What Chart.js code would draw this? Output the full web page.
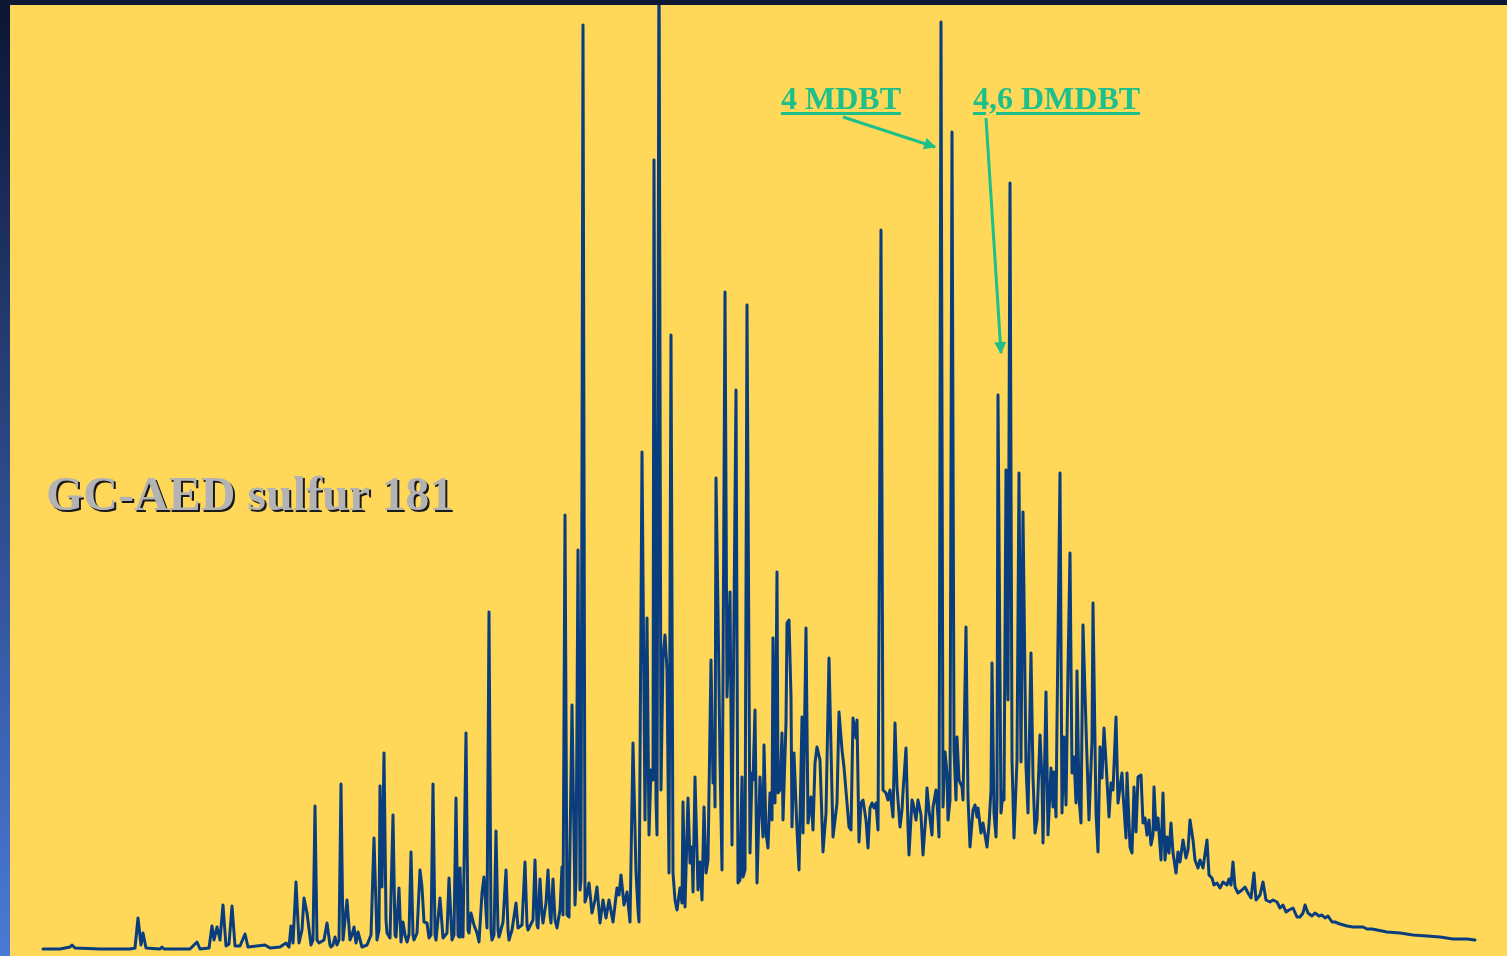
<!DOCTYPE html>
<html>
<head>
<meta charset="utf-8">
<script src="https://cdn.jsdelivr.net/npm/chart.js@4.4.1/dist/chart.umd.min.js"></script>
<style>
  html, body { margin: 0; padding: 0; width: 1507px; height: 956px; overflow: hidden; }
  body { position: relative; background: linear-gradient(180deg, #0c1631 0%, #13214a 12%, #213768 31%, #33539a 60%, #4a7ad6 100%); }
  #topstrip { position: absolute; left: 0; top: 0; width: 1507px; height: 5px; background: #0d1833; }
  #panel { position: absolute; left: 10px; top: 5px; width: 1497px; height: 951px; background: #FFD85A; }
  #chart { position: absolute; left: 0; top: 0; }
  #title { position: absolute; left: 46px; top: 470px; font: bold 48px "Liberation Serif", "Times New Roman", serif; line-height: 48px; color: #b3b3b3; text-shadow: 2px 2px 0 #1a1a1a; white-space: nowrap; }
  .lbl { position: absolute; top: 82px; font: bold 32px "Liberation Serif", "Times New Roman", serif; line-height: 32px; color: #1dbf8a; white-space: nowrap; text-decoration: underline; text-decoration-thickness: 3px; text-underline-offset: 3px; }
  #arrows { position: absolute; left: 0; top: 0; }
</style>
</head>
<body>
<div id="topstrip"></div>
<div id="panel"></div>
<canvas id="chart" width="1507" height="956"></canvas>
<div id="title"></div>
<div id="lbl0" class="lbl" style="left:781px"></div>
<div id="lbl1" class="lbl" style="left:973px"></div>
<svg id="arrows" width="1507" height="956">
  <defs>
    <marker id="head" viewBox="0 0 10 10" refX="9" refY="5" markerWidth="5" markerHeight="4" orient="auto" markerUnits="strokeWidth">
      <path d="M0,0 L10,5 L0,10 z" fill="#1dbf8a"/>
    </marker>
  </defs>
  <line x1="843" y1="117" x2="935" y2="147" stroke="#1dbf8a" stroke-width="3" marker-end="url(#head)"/>
  <line x1="986" y1="118" x2="1001" y2="353" stroke="#1dbf8a" stroke-width="3" marker-end="url(#head)"/>
</svg>
<script>
const chartTitle = "GC-AED sulfur 181";
const compoundLabels = ["4 MDBT", "4,6 DMDBT"];

// retention (scan number) and sulfur response (counts)
const scanNumber = [
0,17,27,29,32,57,87,92,95,98,
100,103,117,119,121,147,154,157,166,169,
171,174,177,180,183,186,189,192,197,202,
205,222,227,237,243,246,248,250,253,256,
259,261,264,268,270,272,274,276,281,284,
287,288,290,292,294,296,298,300,304,307,
309,311,313,315,319,324,328,331,334,336,
337,339,341,343,344,347,350,352,353,356,
358,360,362,364,366,368,370,371,374,377,
379,381,384,386,388,390,392,393,397,400,
404,406,409,411,413,415,416,417,419,420,
423,425,426,428,431,434,436,439,441,444,
446,448,449,451,453,455,456,460,463,465,
466,469,473,475,479,482,484,485,490,492,
494,495,497,499,500,503,505,507,508,510,
512,514,517,519,520,522,524,526,529,532,
533,535,537,538,540,542,544,546,549,552,
554,557,560,563,566,570,574,576,578,581,
584,587,590,593,595,596,599,602,604,606,
608,610,611,613,614,616,618,620,622,624,
626,628,630,632,634,637,639,640,642,645,
647,649,650,652,655,657,659,661,663,665,
668,670,671,672,673,675,677,679,682,684,
687,689,691,693,695,697,699,700,702,704,
707,709,710,712,714,717,720,721,723,725,
727,729,730,732,734,735,737,739,740,743,
744,746,748,749,751,754,756,759,760,763,
765,768,770,772,774,777,780,783,786,789,
790,794,796,799,801,804,806,808,810,813,
814,816,818,820,823,825,827,829,831,833,
835,838,840,843,845,847,850,852,854,857,
859,860,863,865,866,869,870,873,875,878,
880,883,884,886,889,890,893,895,896,898,
900,902,904,905,907,909,911,913,914,916,
919,920,923,925,927,930,932,934,935,938,
940,942,944,946,948,949,951,953,954,955,
958,960,961,963,964,965,967,969,971,974,
976,978,980,983,985,988,990,992,994,997,
999,1000,1003,1005,1008,1010,1011,1013,1014,1017,
1019,1021,1023,1025,1027,1029,1031,1033,1034,1036,
1038,1040,1043,1046,1049,1050,1053,1055,1057,1059,
1061,1063,1066,1068,1070,1073,1075,1077,1079,1080,
1083,1084,1087,1089,1091,1093,1095,1098,1100,1102,
1104,1106,1108,1110,1111,1113,1115,1118,1120,1122,
1124,1126,1128,1130,1133,1135,1137,1140,1143,1145,
1147,1150,1152,1155,1157,1160,1164,1166,1169,1171,
1174,1177,1180,1184,1186,1188,1190,1192,1195,1199,
1202,1205,1208,1211,1213,1217,1220,1223,1227,1230,
1234,1237,1240,1243,1246,1250,1254,1257,1260,1262,
1265,1269,1272,1276,1279,1282,1285,1289,1292,1297,
1304,1310,1315,1320,1324,1329,1334,1344,1357,1370,
1384,1397,1410,1424,1432
];

const sulfurCounts = [
3,3,5,7,4,3,3,4,34,7,
19,4,3,5,3,3,10,3,4,26,
12,25,12,47,6,8,46,6,6,18,
5,7,4,5,9,5,26,9,70,9,
22,54,39,7,12,146,12,9,12,29,
7,5,7,15,7,12,168,12,52,12,
17,25,9,20,5,7,17,114,12,22,
166,65,199,32,19,14,137,17,15,64,
10,30,17,10,17,100,17,12,19,82,
65,30,29,14,17,168,17,12,54,14,
19,74,12,17,154,17,15,84,22,15,
219,22,19,39,27,19,10,59,75,24,
340,22,12,17,121,22,15,30,82,22,
12,22,49,24,27,90,27,22,32,92,
27,24,73,37,29,49,82,37,29,73,
32,24,42,85,37,437,37,35,247,47,
72,402,62,72,927,50,57,69,39,52,
65,29,52,34,52,30,64,57,77,47,
60,30,209,80,42,30,500,132,334,117,
182,172,792,152,117,1012,162,294,317,282,
79,617,79,52,42,64,49,150,45,154,
89,105,60,175,62,90,52,145,79,92,
292,169,212,145,474,342,192,82,660,255,
360,107,339,562,69,72,175,75,82,647,
99,179,172,242,69,175,115,207,119,104,
159,132,314,149,380,159,162,219,132,229,
329,332,255,125,199,122,82,235,119,324,
129,155,122,189,205,192,100,139,294,159,
115,149,240,202,185,149,125,122,234,214,
232,110,149,152,132,104,144,149,144,149,
122,722,162,159,152,162,135,229,165,125,
142,160,204,125,97,152,149,132,152,137,
97,139,164,142,117,145,162,135,115,930,
145,200,179,132,152,820,202,152,215,172,
165,152,325,155,105,142,147,135,144,119,
129,117,105,127,162,289,139,115,152,557,
139,160,152,482,299,252,769,192,114,192,
479,190,440,185,139,299,175,119,132,217,
172,109,260,117,184,145,180,135,229,479,
139,215,147,282,399,179,195,149,281,154,
129,327,225,132,212,349,139,100,205,174,
224,190,135,169,162,235,149,165,179,159,
114,179,105,99,165,120,175,177,129,134,
117,132,107,117,165,122,134,92,159,92,
115,99,129,99,79,100,90,112,94,102,
132,112,92,84,92,84,112,77,74,67,
69,64,70,67,73,67,90,65,59,62,
65,59,54,79,52,57,70,52,50,52,
50,44,47,40,42,44,35,35,39,47,
39,36,39,36,37,34,36,30,30,28,
26,25,25,25,23,23,22,20,19,17,
16,15,13,13,12
];

document.getElementById('title').textContent = chartTitle;
document.getElementById('lbl0').textContent = compoundLabels[0];
document.getElementById('lbl1').textContent = compoundLabels[1];

const trace = scanNumber.map((s, i) => ({ x: s, y: sulfurCounts[i] }));

new Chart(document.getElementById('chart'), {
  type: 'line',
  data: {
    datasets: [{
      label: chartTitle,
      data: trace,
      borderColor: '#093d7e',
      borderWidth: 3,
      pointRadius: 0,
      tension: 0,
      fill: false,
      borderJoinStyle: 'round',
      borderCapStyle: 'round',
      clip: { left: 3, right: 3, top: 0, bottom: 3 }
    }]
  },
  options: {
    responsive: false,
    devicePixelRatio: 1,
    animation: false,
    layout: { padding: { left: 43, right: 32, top: 5, bottom: 4 } },
    plugins: { legend: { display: false }, tooltip: { enabled: false }, title: { display: false } },
    scales: {
      x: { type: 'linear', min: 0, max: 1432, display: false },
      y: { type: 'linear', min: 0, max: 947, display: false }
    }
  }
});
</script>
</body>
</html>
